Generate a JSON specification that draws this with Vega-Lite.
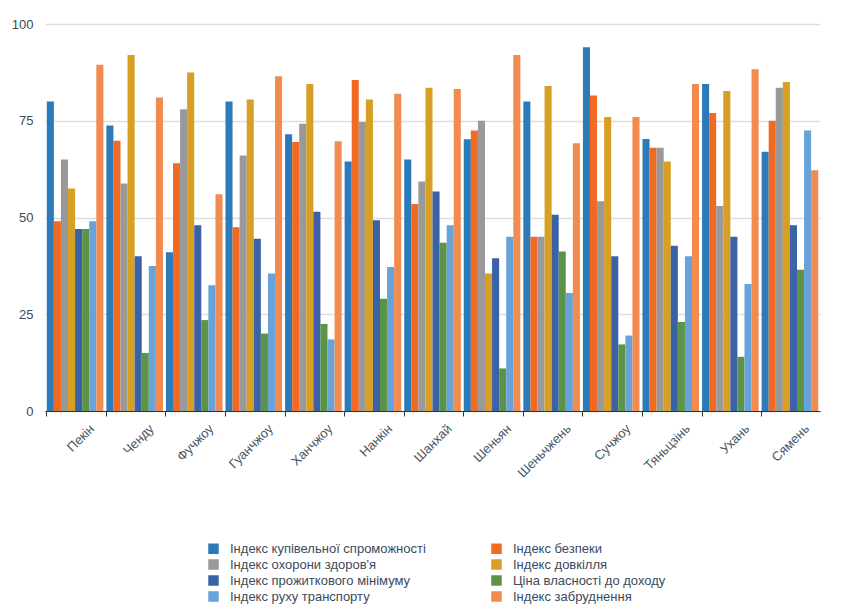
{
  "$schema": "https://vega.github.io/schema/vega-lite/v6.json",
  "width": 775,
  "height": 387,
  "autosize": {"type": "none"},
  "padding": {"left": 45, "top": 24, "right": 30, "bottom": 199},
  "background": "white",
  "config": {
    "font": "Liberation Sans",
    "view": {"stroke": null}
  },
  "data": {
    "values": [
      {"city": "Пекін", "series": "Індекс купівельної спроможності", "value": 80},
      {"city": "Пекін", "series": "Індекс безпеки", "value": 49},
      {"city": "Пекін", "series": "Індекс охорони здоров'я", "value": 65},
      {"city": "Пекін", "series": "Індекс довкілля", "value": 57.5},
      {"city": "Пекін", "series": "Індекс прожиткового мінімуму", "value": 47},
      {"city": "Пекін", "series": "Ціна власності до доходу", "value": 47},
      {"city": "Пекін", "series": "Індекс руху транспорту", "value": 49},
      {"city": "Пекін", "series": "Індекс забруднення", "value": 89.5},
      {"city": "Ченду", "series": "Індекс купівельної спроможності", "value": 73.8},
      {"city": "Ченду", "series": "Індекс безпеки", "value": 69.8},
      {"city": "Ченду", "series": "Індекс охорони здоров'я", "value": 58.8},
      {"city": "Ченду", "series": "Індекс довкілля", "value": 92},
      {"city": "Ченду", "series": "Індекс прожиткового мінімуму", "value": 40},
      {"city": "Ченду", "series": "Ціна власності до доходу", "value": 15},
      {"city": "Ченду", "series": "Індекс руху транспорту", "value": 37.5},
      {"city": "Ченду", "series": "Індекс забруднення", "value": 81},
      {"city": "Фучжоу", "series": "Індекс купівельної спроможності", "value": 41},
      {"city": "Фучжоу", "series": "Індекс безпеки", "value": 64},
      {"city": "Фучжоу", "series": "Індекс охорони здоров'я", "value": 78},
      {"city": "Фучжоу", "series": "Індекс довкілля", "value": 87.5},
      {"city": "Фучжоу", "series": "Індекс прожиткового мінімуму", "value": 48},
      {"city": "Фучжоу", "series": "Ціна власності до доходу", "value": 23.5},
      {"city": "Фучжоу", "series": "Індекс руху транспорту", "value": 32.5},
      {"city": "Фучжоу", "series": "Індекс забруднення", "value": 56},
      {"city": "Гуанчжоу", "series": "Індекс купівельної спроможності", "value": 80},
      {"city": "Гуанчжоу", "series": "Індекс безпеки", "value": 47.5},
      {"city": "Гуанчжоу", "series": "Індекс охорони здоров'я", "value": 66},
      {"city": "Гуанчжоу", "series": "Індекс довкілля", "value": 80.5},
      {"city": "Гуанчжоу", "series": "Індекс прожиткового мінімуму", "value": 44.5},
      {"city": "Гуанчжоу", "series": "Ціна власності до доходу", "value": 20},
      {"city": "Гуанчжоу", "series": "Індекс руху транспорту", "value": 35.5},
      {"city": "Гуанчжоу", "series": "Індекс забруднення", "value": 86.5},
      {"city": "Ханчжоу", "series": "Індекс купівельної спроможності", "value": 71.5},
      {"city": "Ханчжоу", "series": "Індекс безпеки", "value": 69.5},
      {"city": "Ханчжоу", "series": "Індекс охорони здоров'я", "value": 74.2},
      {"city": "Ханчжоу", "series": "Індекс довкілля", "value": 84.5},
      {"city": "Ханчжоу", "series": "Індекс прожиткового мінімуму", "value": 51.5},
      {"city": "Ханчжоу", "series": "Ціна власності до доходу", "value": 22.5},
      {"city": "Ханчжоу", "series": "Індекс руху транспорту", "value": 18.5},
      {"city": "Ханчжоу", "series": "Індекс забруднення", "value": 69.7},
      {"city": "Нанкін", "series": "Індекс купівельної спроможності", "value": 64.5},
      {"city": "Нанкін", "series": "Індекс безпеки", "value": 85.5},
      {"city": "Нанкін", "series": "Індекс охорони здоров'я", "value": 74.7},
      {"city": "Нанкін", "series": "Індекс довкілля", "value": 80.5},
      {"city": "Нанкін", "series": "Індекс прожиткового мінімуму", "value": 49.3},
      {"city": "Нанкін", "series": "Ціна власності до доходу", "value": 29},
      {"city": "Нанкін", "series": "Індекс руху транспорту", "value": 37.2},
      {"city": "Нанкін", "series": "Індекс забруднення", "value": 82},
      {"city": "Шанхай", "series": "Індекс купівельної спроможності", "value": 65},
      {"city": "Шанхай", "series": "Індекс безпеки", "value": 53.5},
      {"city": "Шанхай", "series": "Індекс охорони здоров'я", "value": 59.3},
      {"city": "Шанхай", "series": "Індекс довкілля", "value": 83.5},
      {"city": "Шанхай", "series": "Індекс прожиткового мінімуму", "value": 56.7},
      {"city": "Шанхай", "series": "Ціна власності до доходу", "value": 43.5},
      {"city": "Шанхай", "series": "Індекс руху транспорту", "value": 48},
      {"city": "Шанхай", "series": "Індекс забруднення", "value": 83.2},
      {"city": "Шеньян", "series": "Індекс купівельної спроможності", "value": 70.2},
      {"city": "Шеньян", "series": "Індекс безпеки", "value": 72.5},
      {"city": "Шеньян", "series": "Індекс охорони здоров'я", "value": 75},
      {"city": "Шеньян", "series": "Індекс довкілля", "value": 35.5},
      {"city": "Шеньян", "series": "Індекс прожиткового мінімуму", "value": 39.5},
      {"city": "Шеньян", "series": "Ціна власності до доходу", "value": 11},
      {"city": "Шеньян", "series": "Індекс руху транспорту", "value": 45},
      {"city": "Шеньян", "series": "Індекс забруднення", "value": 92},
      {"city": "Шеньчжень", "series": "Індекс купівельної спроможності", "value": 80},
      {"city": "Шеньчжень", "series": "Індекс безпеки", "value": 45},
      {"city": "Шеньчжень", "series": "Індекс охорони здоров'я", "value": 45},
      {"city": "Шеньчжень", "series": "Індекс довкілля", "value": 84},
      {"city": "Шеньчжень", "series": "Індекс прожиткового мінімуму", "value": 50.7},
      {"city": "Шеньчжень", "series": "Ціна власності до доходу", "value": 41.2},
      {"city": "Шеньчжень", "series": "Індекс руху транспорту", "value": 30.5},
      {"city": "Шеньчжень", "series": "Індекс забруднення", "value": 69.2},
      {"city": "Сучжоу", "series": "Індекс купівельної спроможності", "value": 94},
      {"city": "Сучжоу", "series": "Індекс безпеки", "value": 81.5},
      {"city": "Сучжоу", "series": "Індекс охорони здоров'я", "value": 54.2},
      {"city": "Сучжоу", "series": "Індекс довкілля", "value": 76},
      {"city": "Сучжоу", "series": "Індекс прожиткового мінімуму", "value": 40},
      {"city": "Сучжоу", "series": "Ціна власності до доходу", "value": 17.2},
      {"city": "Сучжоу", "series": "Індекс руху транспорту", "value": 19.5},
      {"city": "Сучжоу", "series": "Індекс забруднення", "value": 76},
      {"city": "Тяньцзінь", "series": "Індекс купівельної спроможності", "value": 70.3},
      {"city": "Тяньцзінь", "series": "Індекс безпеки", "value": 68},
      {"city": "Тяньцзінь", "series": "Індекс охорони здоров'я", "value": 68},
      {"city": "Тяньцзінь", "series": "Індекс довкілля", "value": 64.5},
      {"city": "Тяньцзінь", "series": "Індекс прожиткового мінімуму", "value": 42.7},
      {"city": "Тяньцзінь", "series": "Ціна власності до доходу", "value": 23},
      {"city": "Тяньцзінь", "series": "Індекс руху транспорту", "value": 40},
      {"city": "Тяньцзінь", "series": "Індекс забруднення", "value": 84.5},
      {"city": "Ухань", "series": "Індекс купівельної спроможності", "value": 84.5},
      {"city": "Ухань", "series": "Індекс безпеки", "value": 77},
      {"city": "Ухань", "series": "Індекс охорони здоров'я", "value": 53},
      {"city": "Ухань", "series": "Індекс довкілля", "value": 82.7},
      {"city": "Ухань", "series": "Індекс прожиткового мінімуму", "value": 45},
      {"city": "Ухань", "series": "Ціна власності до доходу", "value": 14},
      {"city": "Ухань", "series": "Індекс руху транспорту", "value": 32.8},
      {"city": "Ухань", "series": "Індекс забруднення", "value": 88.3},
      {"city": "Сямень", "series": "Індекс купівельної спроможності", "value": 67},
      {"city": "Сямень", "series": "Індекс безпеки", "value": 75},
      {"city": "Сямень", "series": "Індекс охорони здоров'я", "value": 83.5},
      {"city": "Сямень", "series": "Індекс довкілля", "value": 85},
      {"city": "Сямень", "series": "Індекс прожиткового мінімуму", "value": 48},
      {"city": "Сямень", "series": "Ціна власності до доходу", "value": 36.5},
      {"city": "Сямень", "series": "Індекс руху транспорту", "value": 72.5},
      {"city": "Сямень", "series": "Індекс забруднення", "value": 62.2}
    ]
  },
  "mark": {"type": "bar"},
  "encoding": {
    "x": {
      "field": "city",
      "type": "nominal",
      "sort": null,
      "title": null,
      "scale": {"paddingInner": 0.05, "paddingOuter": 0.03},
      "axis": {
        "labelAngle": -45,
        "labelAlign": "right",
        "labelBaseline": "top",
        "labelFontSize": 13,
        "labelColor": "#4a5568",
        "labelPadding": 6,
        "labelOffset": 13,
        "domainColor": "#333333",
        "tickColor": "#333333",
        "tickSize": 5,
        "bandPosition": 0,
        "grid": false
      }
    },
    "xOffset": {
      "field": "series",
      "type": "nominal",
      "sort": [
        "Індекс купівельної спроможності",
        "Індекс безпеки",
        "Індекс охорони здоров'я",
        "Індекс довкілля",
        "Індекс прожиткового мінімуму",
        "Ціна власності до доходу",
        "Індекс руху транспорту",
        "Індекс забруднення"
      ],
      "scale": {"paddingInner": 0, "paddingOuter": 0}
    },
    "y": {
      "field": "value",
      "type": "quantitative",
      "title": null,
      "scale": {"domain": [0, 100]},
      "axis": {
        "values": [0, 25, 50, 75, 100],
        "ticks": false,
        "domain": false,
        "labelPadding": 12,
        "labelFontSize": 13,
        "labelColor": "#3c4a5c",
        "gridColor": "#dddddd",
        "gridWidth": 1.5
      }
    },
    "color": {
      "field": "series",
      "type": "nominal",
      "scale": {
        "domain": [
          "Індекс купівельної спроможності",
          "Індекс охорони здоров'я",
          "Індекс прожиткового мінімуму",
          "Індекс руху транспорту",
          "Індекс безпеки",
          "Індекс довкілля",
          "Ціна власності до доходу",
          "Індекс забруднення"
        ],
        "range": ["#2b7bba", "#999999", "#3b62a6", "#67a2d8", "#f06a24", "#d89f25", "#5b9447", "#f28b50"]
      },
      "legend": {
        "title": null,
        "orient": "none",
        "legendX": 162,
        "legendY": 518,
        "columns": 2,
        "columnPadding": 64,
        "rowPadding": 2,
        "symbolType": "square",
        "symbolSize": 110,
        "symbolStrokeWidth": 0,
        "labelFontSize": 13,
        "labelColor": "#3c4a5c",
        "labelOffset": 10,
        "labelLimit": 300
      }
    }
  }
}
